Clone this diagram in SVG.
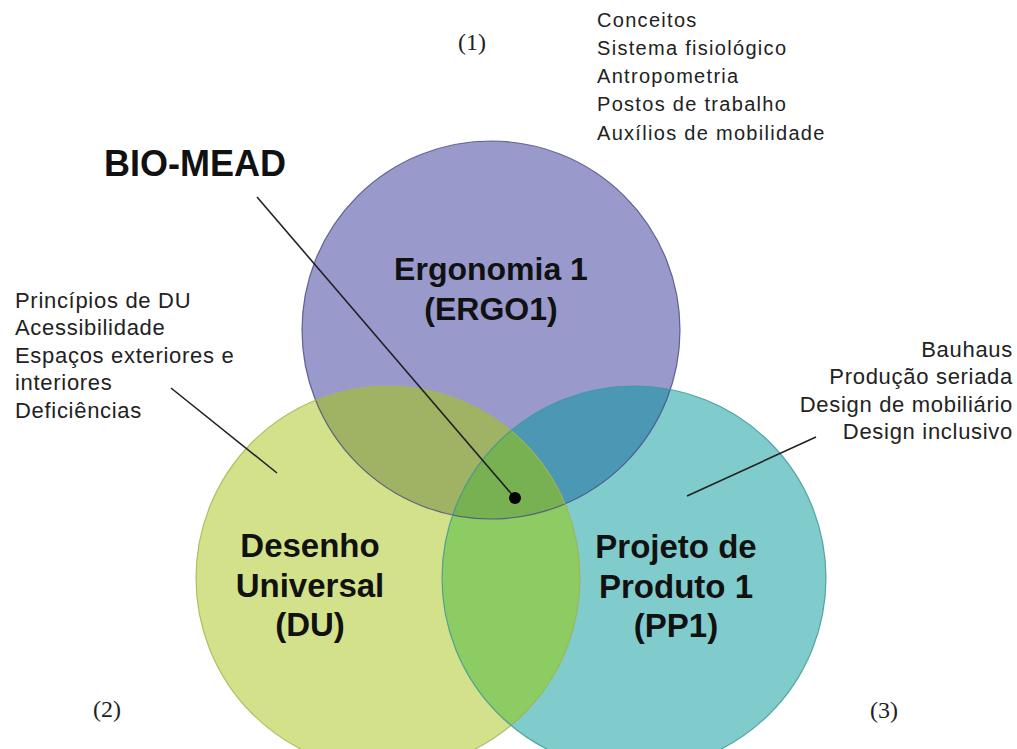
<svg xmlns="http://www.w3.org/2000/svg" width="1017" height="749" viewBox="0 0 1017 749">
<style>
.lbl{font-family:"Liberation Sans",Arial,sans-serif;font-weight:bold;font-size:33px;fill:#111;text-anchor:middle}
.bio{font-family:"Liberation Sans",Arial,sans-serif;font-weight:bold;font-size:36px;fill:#111}
.lst{font-family:"Liberation Sans",Arial,sans-serif;font-size:20px;fill:#222;letter-spacing:1.3px}
.lst2{font-family:"Liberation Sans",Arial,sans-serif;font-size:22px;fill:#222;letter-spacing:0.7px}
.num{font-family:"Liberation Serif","Times New Roman",serif;font-size:24px;fill:#222;text-anchor:middle}
.con{stroke:#222;stroke-width:1.6;fill:none}
</style>
<defs>
<clipPath id="cA"><circle cx="491" cy="330" r="189"/></clipPath>
<clipPath id="cB"><circle cx="388" cy="578" r="192"/></clipPath>
<clipPath id="cC"><circle cx="634" cy="578" r="192"/></clipPath>
</defs>
<rect width="1017" height="749" fill="#ffffff"/>
<g id="node-ergo1">
<circle cx="491" cy="330" r="189" fill="#9999cc"/>
</g>
<g id="node-du">
<circle cx="388" cy="578" r="192" fill="#d3e28a"/>
</g>
<g id="node-pp1">
<circle cx="634" cy="578" r="192" fill="#80cccc"/>
</g>
<g id="overlaps">
<circle cx="388" cy="578" r="192" fill="#a0b264" clip-path="url(#cA)"/>
<circle cx="634" cy="578" r="192" fill="#4b98b5" clip-path="url(#cA)"/>
<circle cx="634" cy="578" r="192" fill="#8ccc62" clip-path="url(#cB)"/>
<g clip-path="url(#cA)"><circle cx="634" cy="578" r="192" fill="#77b152" clip-path="url(#cB)"/></g>
</g>
<g id="outlines" fill="none">
<circle cx="491" cy="330" r="189" stroke="#4a4a80" stroke-width="1.2" stroke-opacity="0.8"/>
<circle cx="388" cy="578" r="192" stroke="#9fb450" stroke-width="1.2" stroke-opacity="0.8"/>
<circle cx="634" cy="578" r="192" stroke="#3f9696" stroke-width="1.2" stroke-opacity="0.8"/>
</g>
<g id="label-ergo1">
<text class="lbl" x="491" y="280" style="font-size:32px">Ergonomia 1</text>
<text class="lbl" x="491" y="320" style="font-size:32px">(ERGO1)</text>
</g>
<g id="label-du">
<text class="lbl" x="310" y="557">Desenho</text>
<text class="lbl" x="310" y="597">Universal</text>
<text class="lbl" x="310" y="636">(DU)</text>
</g>
<g id="label-pp1">
<text class="lbl" x="676" y="558">Projeto de</text>
<text class="lbl" x="676" y="598">Produto 1</text>
<text class="lbl" x="676" y="637">(PP1)</text>
</g>
<g id="node-biomead">
<text class="bio" x="104" y="176">BIO-MEAD</text>
</g>
<g id="list-ergo1">
<text class="lst" x="597" y="27">Conceitos</text>
<text class="lst" x="597" y="55">Sistema fisiológico</text>
<text class="lst" x="597" y="83">Antropometria</text>
<text class="lst" x="597" y="111">Postos de trabalho</text>
<text class="lst" x="597" y="140">Auxílios de mobilidade</text>
</g>
<g id="list-du">
<text class="lst2" x="15" y="308">Princípios de DU</text>
<text class="lst2" x="15" y="335">Acessibilidade</text>
<text class="lst2" x="15" y="363">Espaços exteriores e</text>
<text class="lst2" x="15" y="390">interiores</text>
<text class="lst2" x="15" y="418">Deficiências</text>
</g>
<g id="list-pp1" text-anchor="end">
<text class="lst2" x="1013" y="357">Bauhaus</text>
<text class="lst2" x="1013" y="384">Produção seriada</text>
<text class="lst2" x="1013" y="412">Design de mobiliário</text>
<text class="lst2" x="1013" y="439">Design inclusivo</text>
</g>
<g id="numbers">
<text class="num" x="472" y="50">(1)</text>
<text class="num" x="107" y="717">(2)</text>
<text class="num" x="884" y="718">(3)</text>
</g>
<g id="connectors">
<line class="con" x1="257" y1="197" x2="515" y2="498"/>
<circle cx="515" cy="498" r="6" fill="#000"/>
<line class="con" x1="171" y1="388" x2="277" y2="473"/>
<line class="con" x1="816" y1="437" x2="687" y2="496"/>
</g>
</svg>
